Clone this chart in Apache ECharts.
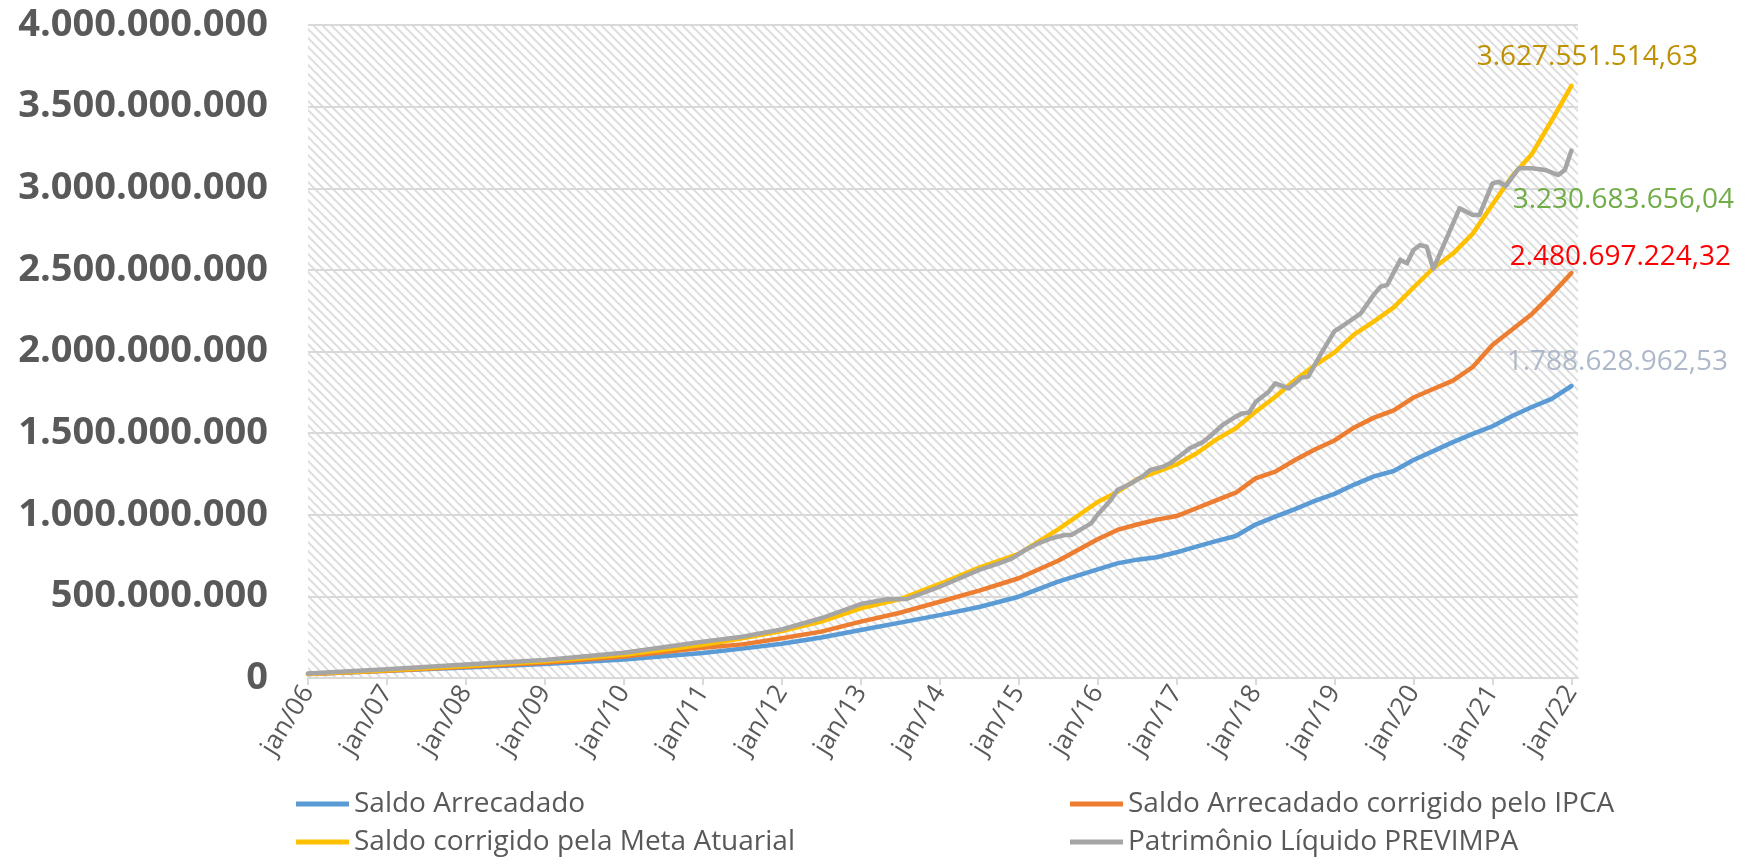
<!DOCTYPE html>
<html><head><meta charset="utf-8">
<script src="https://cdn.jsdelivr.net/npm/echarts@6/dist/echarts.min.js"></script>
<style>html,body{margin:0;padding:0;background:#fff}#chart{width:1756px;height:865px}</style>
</head><body><div id="chart"></div>
<script>
// Month index since jan/06 (0 = jan/06, 192 = jan/22); values in millions of R$
const months = [0,12,24,36,48,60,66,72,78,84,90,96,102,108,114,120,123,126,129,132,135,138,141,144,147,150,153,156,159,162,165,168,171,174,177,180,183,186,189,192];
const saldoArrecadado = [25,45,65,86,114,153,180,210,248,294,339,385,435,498,590,665,702,725,740,770,805,838,870,940,988,1035,1085,1128,1185,1235,1268,1335,1390,1445,1495,1542,1605,1660,1710,1788.62896253];
const saldoIPCA = [25,45,69,94,131,185,206,243,284,345,400,467,535,611,718,850,907,940,970,992,1040,1088,1135,1223,1264,1335,1400,1455,1535,1595,1640,1718,1770,1822,1905,2040,2135,2230,2350,2480.69722432];
const saldoMeta = [25,47,73,102,143,203,243,288,345,427,483,576,676,760,910,1078,1140,1218,1262,1308,1375,1460,1530,1631,1723,1825,1915,1995,2105,2185,2270,2392,2510,2600,2722,2900,3075,3210,3415,3627.55151463];
const plMonths = [0,12,24,36,48,60,66,72,78,84,88,91,96,102,105,107,109,111,113,115,116,117,119,120,122,123,125,127,128,130,131,133,134,136,137,139,141,142,143,144,146,147,149,150,151,152,154,156,157,160,162,163,164,166,167,168,169,170,171,175,177,178,180,181,182,184,186,188,190,191,192];
const patrimonio = [28,53,82,110,155,222,253,298,366,453,482,484,559,662,702,733,784,825,856,876,876,900,947,1000,1090,1152,1190,1240,1274,1295,1315,1375,1407,1445,1478,1550,1601,1621,1625,1690,1754,1805,1774,1805,1840,1846,1990,2125,2150,2234,2350,2397,2407,2561,2540,2622,2652,2642,2505,2877,2836,2836,3030,3040,3012,3122,3122,3112,3081,3112,3230.68365604];
const xTickMonths = [0,12,24,36,48,60,72,84,96,108,120,132,144,156,168,180,192];
const xTickLabels = ['jan/06','jan/07','jan/08','jan/09','jan/10','jan/11','jan/12','jan/13','jan/14','jan/15','jan/16','jan/17','jan/18','jan/19','jan/20','jan/21','jan/22'];
const seriesNames = ['Saldo Arrecadado','Saldo Arrecadado corrigido pelo IPCA','Saldo corrigido pela Meta Atuarial','Patrimônio Líquido PREVIMPA'];

function fmtInt(n){ return Math.round(n).toString().replace(/\B(?=(\d{3})+(?!\d))/g,'.'); }
function fmtMoney(mil){ const cents = Math.round(mil*1e8); const ip = Math.floor(cents/100); const d = cents%100; return fmtInt(ip)+','+String(d).padStart(2,'0'); }

const P = 9;
const cv = document.createElement('canvas'); cv.width = P; cv.height = P;
const g = cv.getContext('2d');
g.fillStyle = '#ffffff'; g.fillRect(0,0,P,P);
g.strokeStyle = '#dedede'; g.lineWidth = 2;
for (const k of [-P,0,P]) { g.beginPath(); g.moveTo(k-2,-2); g.lineTo(k+P+2,P+2); g.stroke(); }

const FONT = 'Open Sans';
function mkSeries(name, xs, ys, color, lbl){
  const last = ys[ys.length-1];
  return {
    name, type:'line', color, symbol:'none', showSymbol:false,
    lineStyle:{width:4.5, color, cap:'round', join:'round'},
    data: xs.map((m,i)=>[m, ys[i]]),
    markPoint:{
      symbol:'circle', symbolSize:1, silent:true, itemStyle:{color:'rgba(0,0,0,0)'},
      data:[{coord:[xs[xs.length-1], last], value:last}],
      label:{show:true, position:'inside', offset:lbl.offset, formatter:()=>fmtMoney(last),
        color:lbl.color, fontSize:28, fontFamily:FONT}
    }
  };
}

const chart = echarts.init(document.getElementById('chart'), null, {renderer:'canvas'});
const legendBase = {padding:0, itemWidth:53, itemHeight:5, icon:'rect', selectedMode:false,
  textStyle:{fontSize:28, color:'#595959', fontFamily:FONT, lineHeight:30}};
chart.setOption({
  animation:false,
  backgroundColor:'#ffffff',
  grid:{left:308, right:178, top:25, bottom:187, show:true, borderWidth:0,
    backgroundColor:{image:cv, repeat:'repeat'}},
  xAxis:{type:'value', min:0, max:193,
    axisLine:{show:true, lineStyle:{color:'#d9d9d9', width:2}},
    axisTick:{show:true, length:7, customValues:xTickMonths, lineStyle:{color:'#d9d9d9', width:2}},
    axisLabel:{customValues:xTickMonths, formatter:v=>xTickLabels[xTickMonths.indexOf(v)],
      rotate:58, color:'#595959', fontSize:26, fontFamily:FONT, margin:10},
    splitLine:{show:false}},
  yAxis:{type:'value', min:0, max:4000, interval:500,
    axisLine:{show:false}, axisTick:{show:false},
    splitLine:{lineStyle:{color:'#d9d9d9', width:2}},
    axisLabel:{formatter:v=>fmtInt(v*1e6), fontSize:38, fontWeight:'bold', color:'#595959', fontFamily:FONT, margin:40}},
  legend:[
    {data:[seriesNames[0]], left:296, top:789},
    {data:[seriesNames[1]], left:1070, top:789},
    {data:[seriesNames[2]], left:296, top:827},
    {data:[seriesNames[3]], left:1070, top:827}
  ].map(l=>Object.assign({}, legendBase, l)),
  series:[
    mkSeries(seriesNames[0], months, saldoArrecadado, '#5B9BD5', {color:'#ADB9CA', offset:[46,-24]}),
    mkSeries(seriesNames[1], months, saldoIPCA, '#ED7D31', {color:'#FF0000', offset:[49,-16]}),
    mkSeries(seriesNames[2], months, saldoMeta, '#FFC000', {color:'#BF9000', offset:[16,-29]}),
    mkSeries(seriesNames[3], plMonths, patrimonio, '#A5A5A5', {color:'#70AD47', offset:[52,49]})
  ]
});
</script></body></html>
